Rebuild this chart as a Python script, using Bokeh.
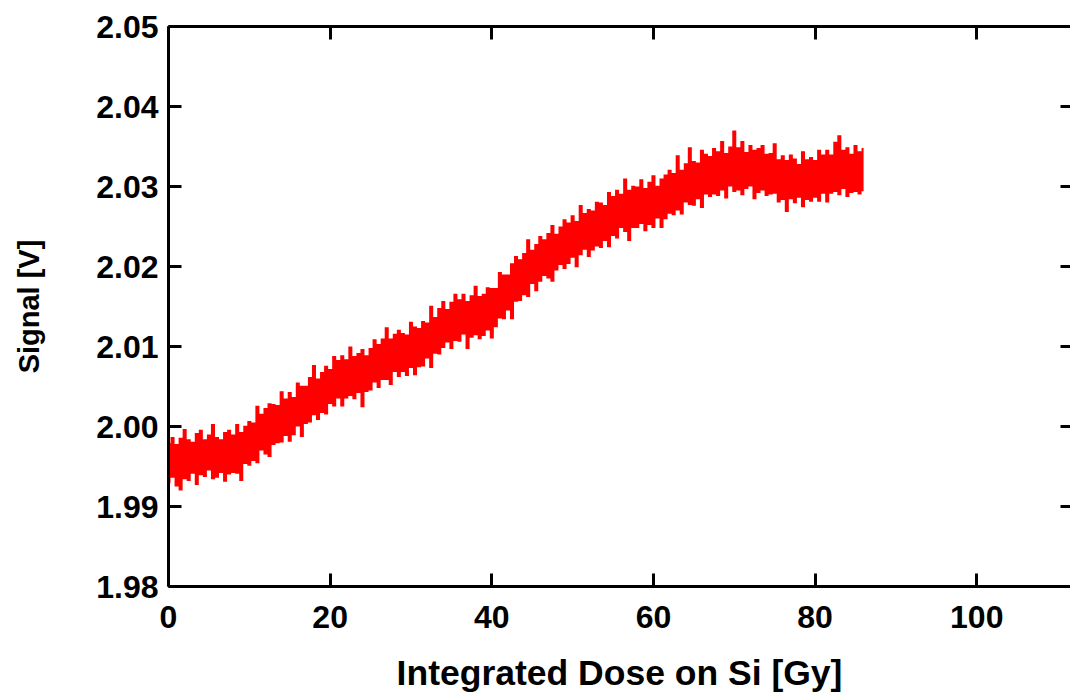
from bokeh.plotting import figure
from bokeh.models import LinearAxis, FixedTicker, PrintfTickFormatter, Range1d, CustomLabelingPolicy
from bokeh.embed import file_html
from bokeh.resources import INLINE

# ---- data ----
# dose samples (Gy) and the lowest / highest signal seen in each 0.5 Gy slot
dose = [
    0.0, 0.5, 1.0, 1.5, 2.0, 2.5, 3.0, 3.5, 4.0, 4.5,
    5.0, 5.5, 6.0, 6.5, 7.0, 7.5, 8.0, 8.5, 9.0, 9.5,
    10.0, 10.5, 11.0, 11.5, 12.0, 12.5, 13.0, 13.5, 14.0, 14.5,
    15.0, 15.5, 16.0, 16.5, 17.0, 17.5, 18.0, 18.5, 19.0, 19.5,
    20.0, 20.5, 21.0, 21.5, 22.0, 22.5, 23.0, 23.5, 24.0, 24.5,
    25.0, 25.5, 26.0, 26.5, 27.0, 27.5, 28.0, 28.5, 29.0, 29.5,
    30.0, 30.5, 31.0, 31.5, 32.0, 32.5, 33.0, 33.5, 34.0, 34.5,
    35.0, 35.5, 36.0, 36.5, 37.0, 37.5, 38.0, 38.5, 39.0, 39.5,
    40.0, 40.5, 41.0, 41.5, 42.0, 42.5, 43.0, 43.5, 44.0, 44.5,
    45.0, 45.5, 46.0, 46.5, 47.0, 47.5, 48.0, 48.5, 49.0, 49.5,
    50.0, 50.5, 51.0, 51.5, 52.0, 52.5, 53.0, 53.5, 54.0, 54.5,
    55.0, 55.5, 56.0, 56.5, 57.0, 57.5, 58.0, 58.5, 59.0, 59.5,
    60.0, 60.5, 61.0, 61.5, 62.0, 62.5, 63.0, 63.5, 64.0, 64.5,
    65.0, 65.5, 66.0, 66.5, 67.0, 67.5, 68.0, 68.5, 69.0, 69.5,
    70.0, 70.5, 71.0, 71.5, 72.0, 72.5, 73.0, 73.5, 74.0, 74.5,
    75.0, 75.5, 76.0, 76.5, 77.0, 77.5, 78.0, 78.5, 79.0, 79.5,
    80.0, 80.5, 81.0, 81.5, 82.0, 82.5, 83.0, 83.5, 84.0, 84.5,
    85.0, 85.5, 86.0,
]
signal_max = [
    1.9979, 1.9987, 1.9978, 1.9986, 1.9997, 1.9984, 1.9981, 1.9992, 1.9996, 1.9984,
    1.9990, 2.0003, 1.9987, 1.9984, 1.9993, 1.9996, 1.9990, 2.0003, 1.9993, 2.0001,
    2.0007, 2.0005, 2.0026, 2.0016, 2.0023, 2.0029, 2.0028, 2.0027, 2.0044, 2.0035,
    2.0043, 2.0037, 2.0055, 2.0051, 2.0051, 2.0062, 2.0077, 2.0060, 2.0068, 2.0076,
    2.0072, 2.0088, 2.0083, 2.0089, 2.0084, 2.0100, 2.0088, 2.0092, 2.0097, 2.0089,
    2.0098, 2.0109, 2.0103, 2.0110, 2.0124, 2.0110, 2.0116, 2.0121, 2.0117, 2.0115,
    2.0131, 2.0125, 2.0123, 2.0132, 2.0130, 2.0151, 2.0137, 2.0148, 2.0157, 2.0147,
    2.0156, 2.0166, 2.0159, 2.0166, 2.0157, 2.0164, 2.0176, 2.0163, 2.0166, 2.0174,
    2.0173, 2.0173, 2.0193, 2.0190, 2.0190, 2.0204, 2.0213, 2.0209, 2.0217, 2.0234,
    2.0221, 2.0228, 2.0238, 2.0234, 2.0242, 2.0252, 2.0241, 2.0250, 2.0259, 2.0255,
    2.0264, 2.0257, 2.0277, 2.0267, 2.0272, 2.0270, 2.0281, 2.0280, 2.0277, 2.0293,
    2.0288, 2.0296, 2.0291, 2.0310, 2.0296, 2.0301, 2.0300, 2.0309, 2.0298, 2.0306,
    2.0314, 2.0301, 2.0310, 2.0315, 2.0321, 2.0317, 2.0339, 2.0321, 2.0329, 2.0349,
    2.0332, 2.0330, 2.0346, 2.0341, 2.0338, 2.0348, 2.0344, 2.0357, 2.0342, 2.0350,
    2.0370, 2.0349, 2.0357, 2.0343, 2.0352, 2.0346, 2.0348, 2.0352, 2.0341, 2.0342,
    2.0354, 2.0334, 2.0339, 2.0333, 2.0340, 2.0335, 2.0328, 2.0344, 2.0334, 2.0337,
    2.0333, 2.0346, 2.0340, 2.0346, 2.0340, 2.0356, 2.0364, 2.0346, 2.0349, 2.0341,
    2.0352, 2.0344, 2.0348,
]
signal_min = [
    1.9929, 1.9936, 1.9925, 1.9920, 1.9934, 1.9932, 1.9941, 1.9927, 1.9939, 1.9937,
    1.9945, 1.9934, 1.9936, 1.9942, 1.9931, 1.9940, 1.9942, 1.9941, 1.9932, 1.9953,
    1.9951, 1.9957, 1.9954, 1.9970, 1.9965, 1.9962, 1.9977, 1.9979, 1.9980, 1.9988,
    1.9981, 1.9989, 2.0000, 1.9987, 2.0003, 2.0005, 2.0014, 2.0008, 2.0017, 2.0015,
    2.0028, 2.0025, 2.0035, 2.0025, 2.0035, 2.0038, 2.0034, 2.0042, 2.0024, 2.0043,
    2.0045, 2.0055, 2.0048, 2.0058, 2.0058, 2.0052, 2.0068, 2.0062, 2.0068, 2.0063,
    2.0073, 2.0064, 2.0074, 2.0075, 2.0085, 2.0073, 2.0091, 2.0090, 2.0098, 2.0105,
    2.0097, 2.0107, 2.0106, 2.0115, 2.0097, 2.0111, 2.0114, 2.0109, 2.0113, 2.0120,
    2.0110, 2.0124, 2.0135, 2.0134, 2.0145, 2.0134, 2.0156, 2.0157, 2.0164, 2.0162,
    2.0178, 2.0169, 2.0181, 2.0188, 2.0185, 2.0181, 2.0195, 2.0202, 2.0197, 2.0203,
    2.0211, 2.0199, 2.0214, 2.0221, 2.0212, 2.0220, 2.0225, 2.0223, 2.0232, 2.0224,
    2.0238, 2.0235, 2.0248, 2.0243, 2.0232, 2.0248, 2.0248, 2.0253, 2.0244, 2.0252,
    2.0248, 2.0260, 2.0248, 2.0259, 2.0266, 2.0264, 2.0270, 2.0265, 2.0280, 2.0277,
    2.0276, 2.0284, 2.0273, 2.0290, 2.0287, 2.0290, 2.0288, 2.0295, 2.0285, 2.0300,
    2.0293, 2.0295, 2.0289, 2.0297, 2.0300, 2.0284, 2.0292, 2.0295, 2.0288, 2.0290,
    2.0291, 2.0280, 2.0283, 2.0268, 2.0284, 2.0279, 2.0286, 2.0274, 2.0283, 2.0281,
    2.0286, 2.0281, 2.0291, 2.0280, 2.0291, 2.0293, 2.0289, 2.0297, 2.0287, 2.0292,
    2.0293, 2.0290, 2.0294,
]

x_ticks = [0, 20, 40, 60, 80, 100]
y_ticks = [1.98, 1.99, 2.00, 2.01, 2.02, 2.03, 2.04, 2.05]
x_label = "Integrated Dose on Si [Gy]"
y_label = "Signal [V]"

FONT = "Liberation Sans"
RED = "#ff0000"

p = figure(width=1070, height=695,
           x_range=Range1d(0, 111.6), y_range=Range1d(1.98, 2.05),
           output_backend="svg", toolbar_location=None,
           min_border_left=168, min_border_right=0,
           min_border_top=26, min_border_bottom=109)
p.outline_line_alpha = 0
p.grid.visible = False
p.background_fill_color = "white"
p.border_fill_color = "white"

p.varea_step(x=dose, y1=signal_min, y2=signal_max, step_mode="center", fill_color=RED)


def style(ax, ticks, tick_len):
    ax.ticker = FixedTicker(ticks=ticks)
    ax.major_tick_in = tick_len
    ax.major_tick_out = 0
    ax.minor_tick_in = 0
    ax.minor_tick_out = 0
    ax.axis_line_width = 3
    ax.major_tick_line_width = 3
    ax.axis_line_color = "black"
    ax.major_tick_line_color = "black"
    ax.major_label_text_font = FONT
    ax.major_label_text_font_style = "bold"
    ax.major_label_text_font_size = "32px"
    ax.major_label_text_color = "black"
    ax.axis_label_text_font = FONT
    ax.axis_label_text_font_style = "bold"
    ax.axis_label_text_color = "black"


def hide_labels(ax):
    ax.major_label_policy = CustomLabelingPolicy(code="""
const ids = Array.from(indices)
for (const i of ids) { indices.unset(i) }
return indices
""")
    ax.major_label_text_font_size = "0px"
    ax.major_label_standoff = 0
    ax.axis_label_standoff = 0


xa = p.xaxis[0]
style(xa, x_ticks, 13)
xa.major_label_standoff = 19
xa.axis_label = x_label
xa.axis_label_text_font_size = "35.5px"
xa.axis_label_standoff = 22

ya = p.yaxis[0]
style(ya, y_ticks, 13)
ya.formatter = PrintfTickFormatter(format="%.2f")
ya.major_label_standoff = 10
ya.axis_label = y_label
ya.axis_label_text_font_size = "29px"
ya.axis_label_standoff = 48

top = LinearAxis()
style(top, x_ticks, 13)
hide_labels(top)
p.add_layout(top, "above")

right = LinearAxis()
style(right, y_ticks, 10)
right.axis_line_alpha = 0
hide_labels(right)
p.add_layout(right, "right")

open("out.html", "w").write(file_html(p, INLINE))
